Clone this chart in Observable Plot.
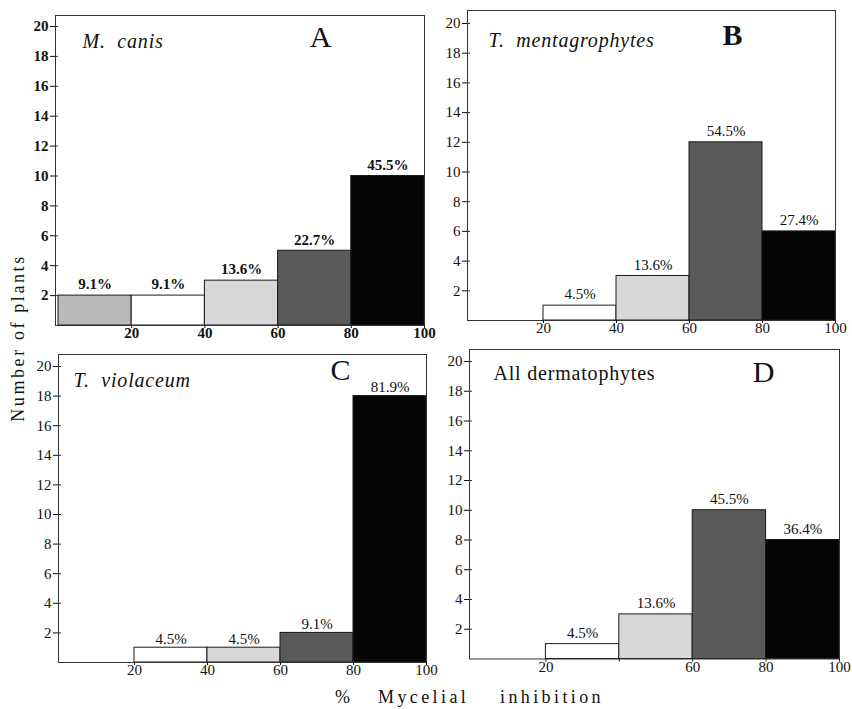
<!DOCTYPE html>
<html>
<head>
<meta charset="utf-8">
<script src="https://cdn.jsdelivr.net/npm/d3@7"></script>
<script src="https://cdn.jsdelivr.net/npm/@observablehq/plot@0.6"></script>
<style>
  html, body { margin: 0; padding: 0; background: #fff; }
  #root { position: relative; width: 852px; height: 709px; font-family: "Liberation Serif", serif; color: #111; }
  #root svg { position: absolute; overflow: visible; }
  #root svg g[aria-label$="tick label"] { font-size: 15px; }
  .ylab { position: absolute; left: 18px; top: 338px; transform: translate(-50%, -50%) rotate(-90deg); font-size: 18px; letter-spacing: 2.6px; white-space: nowrap; }
  .xw { position: absolute; top: 688px; font-size: 18px; line-height: 1; letter-spacing: 3.4px; white-space: nowrap; }
</style>
</head>
<body>
<div id="root">
  <div class="ylab">Number of plants</div>
  <span class="xw" style="left:335px">%</span>
  <span class="xw" style="left:378px">Mycelial</span>
  <span class="xw" style="left:500px">inhibition</span>
</div>
<script>
// ---- data ----
const binStart = [0, 20, 40, 60, 80];
const binEnd   = [20, 40, 60, 80, 100];
const binFill  = ["#b9b9b9", "#ffffff", "#d8d8d8", "#5a5a5a", "#050505"];

const speciesNames = ["M.  canis", "T.  mentagrophytes", "T.  violaceum", "All dermatophytes"];
const panelLetters = ["A", "B", "C", "D"];

const countsA = [2, 2, 3, 5, 10];
const pctA    = ["9.1%", "9.1%", "13.6%", "22.7%", "45.5%"];
const countsB = [null, 1, 3, 12, 6];
const pctB    = [null, "4.5%", "13.6%", "54.5%", "27.4%"];
const countsC = [null, 1, 1, 2, 18];
const pctC    = [null, "4.5%", "4.5%", "9.1%", "81.9%"];
const countsD = [null, 1, 3, 10, 8];
const pctD    = [null, "4.5%", "13.6%", "45.5%", "36.4%"];

const yTicks = [2, 4, 6, 8, 10, 12, 14, 16, 18, 20];
const xTicksABC = [20, 40, 60, 80, 100];
const xTickMarksD = [20, 40, 60, 80, 100];
const xTickLabelsD = [20, 60, 80, 100];

// ---- layout (pixel positions of each panel) ----
const layouts = [
  {frameLeft: 55,  x0: 58,  x100: 424, frameTop: 15,  y0: 325,   y20: 26,  bold: true,  italic: true,
   spDx: 27, spDy: 26, ltDx: 265, ltDy: 22, ltBold: false},
  {frameLeft: 467, x0: 470, x100: 835, frameTop: 10,  y0: 320,   y20: 23,  bold: false, italic: true,
   spDx: 21, spDy: 30, ltDx: 265, ltDy: 25, ltBold: true},
  {frameLeft: 58,  x0: 61,  x100: 426, frameTop: 354, y0: 662,   y20: 366, bold: false, italic: true,
   spDx: 15, spDy: 26, ltDx: 282, ltDy: 16, ltBold: false},
  {frameLeft: 469, x0: 472, x100: 839, frameTop: 349, y0: 658.5, y20: 361, bold: false, italic: false,
   spDx: 24, spDy: 24, ltDx: 294, ltDy: 23, ltBold: false}
];

const allCounts = [countsA, countsB, countsC, countsD];
const allPct = [pctA, pctB, pctC, pctD];

const root = document.getElementById("root");

layouts.forEach((L, i) => {
  const rows = binStart.map((s, k) => ({
    x1: s, x2: binEnd[k], count: allCounts[i][k], pct: allPct[i][k], fill: binFill[k]
  })).filter(d => d.count != null);

  const mL = 40, mR = 10, mT = 5, mB = 28;
  const pxPerX = (L.x100 - L.x0) / 100;
  const xmin = -(L.x0 - L.frameLeft) / pxPerX;
  const pxPerY = (L.y0 - L.y20) / 20;
  const ymax = (L.y0 - L.frameTop) / pxPerY;
  const width = (L.x100 - L.frameLeft) + mL + mR;
  const height = (L.y0 - L.frameTop) + mT + mB;

  const xTickMarks = i === 3 ? xTickMarksD : xTicksABC;
  const xTickLabels = i === 3 ? xTickLabelsD : xTicksABC;
  const fw = L.bold ? "bold" : "normal";

  const chart = Plot.plot({
    width, height,
    marginLeft: mL, marginRight: mR, marginTop: mT, marginBottom: mB,
    style: {fontFamily: "Liberation Serif, serif", fontSize: "14px", background: "transparent", color: "#111"},
    x: {domain: [xmin, 100]},
    y: {domain: [0, ymax]},
    marks: [
      Plot.rectY(rows, {x1: "x1", x2: "x2", y1: 0, y2: "count", fill: "fill", stroke: "#1a1a1a", strokeWidth: 1}),
      Plot.text(rows, {x: d => (d.x1 + d.x2) / 2, y: "count", text: "pct", dy: i === 2 ? -9 : -11,
        fontSize: 15, fontWeight: fw, fill: "#111"}),
      Plot.frame({stroke: "#333", strokeWidth: 1}),
      Plot.axisY({ticks: yTicks, tickSize: 5, tickPadding: 2, label: null, fontWeight: fw, fontSize: 15}),
      Plot.ruleY(yTicks, {x1: xmin, x2: xmin + 3 / pxPerX, stroke: "#333"}),
      Plot.axisX({ticks: xTickMarks, tickSize: 3, tickPadding: 3, label: null, tickFormat: () => "", fontSize: 15}),
      Plot.axisX({ticks: xTickLabels, tickSize: 0, tickPadding: 2, label: null, fontWeight: fw, fontSize: 15}),
      Plot.text([speciesNames[i]], {frameAnchor: "top-left", dx: L.spDx, dy: L.spDy, textAnchor: "start",
        lineAnchor: "middle", fontSize: 20, fontStyle: L.italic ? "italic" : "normal", fill: "#111"}),
      Plot.text([panelLetters[i]], {frameAnchor: "top-left", dx: L.ltDx, dy: L.ltDy, textAnchor: "middle",
        lineAnchor: "middle", fontSize: 30, fontWeight: L.ltBold ? "bold" : "normal", fill: "#111"})
    ]
  });
  chart.style.left = (L.frameLeft - mL) + "px";
  chart.style.top = (L.frameTop - mT) + "px";
  chart.querySelectorAll("text").forEach(t => { if (t.textContent === speciesNames[i]) t.style.letterSpacing = "0.8px"; });
  root.appendChild(chart);
});
</script>
</body>
</html>
